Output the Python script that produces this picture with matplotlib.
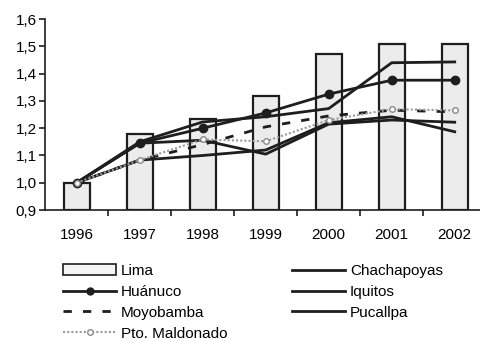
import numpy as np
import matplotlib.pyplot as plt
import matplotlib as mpl
from matplotlib.patches import Patch
from matplotlib.lines import Line2D

mpl.rcParams['font.family'] = ['Liberation Sans', 'DejaVu Sans']

years = ['1996', '1997', '1998', '1999', '2000', '2001', '2002']
lima = [1.00, 1.18, 1.233, 1.319, 1.471, 1.507, 1.51]
chachapoyas = [1.00, 1.15, 1.223, 1.242, 1.272, 1.44, 1.443]
huanuco = [1.00, 1.145, 1.20, 1.256, 1.325, 1.376, 1.376]
iquitos = [1.00, 1.145, 1.156, 1.105, 1.215, 1.23, 1.222]
moyobamba = [1.00, 1.083, 1.14, 1.205, 1.245, 1.266, 1.26]
pucallpa = [1.00, 1.083, 1.10, 1.12, 1.22, 1.242, 1.187]
maldonado = [1.00, 1.083, 1.159, 1.152, 1.23, 1.27, 1.265]

x = np.arange(len(years))
dark = '#1e1e1e'

fig = plt.figure(figsize=(4.8, 3.41), dpi=100)
ax = fig.add_axes([0.094, 0.384, 0.919, 0.56])

ax.bar(x, [v - 0.9 for v in lima], bottom=0.9, width=0.41, facecolor='#ececec',
       edgecolor=dark, linewidth=1.6, zorder=1)
ax.plot(x, chachapoyas, color=dark, lw=2, zorder=3)
ax.plot(x, huanuco, color=dark, lw=2, marker='o', markersize=6, zorder=3)
ax.plot(x, iquitos, color=dark, lw=2, zorder=3)
ax.plot(x, pucallpa, color=dark, lw=2, zorder=3)
ax.plot(x, moyobamba, color=dark, lw=2, linestyle=(0, (3, 4)), zorder=3)
ax.plot(x, maldonado, color='#9a9a9a', lw=1.5, linestyle=(0, (1, 1)), marker='o',
        markersize=4, markerfacecolor='white', markeredgecolor='#8a8a8a', zorder=4)

ax.set_xlim(-0.5, 6.5)
ax.set_ylim(0.9, 1.6)
ax.set_yticks(np.arange(0.9, 1.61, 0.1))
ax.set_yticklabels([f'{v:.1f}'.replace('.', ',') for v in np.arange(0.9, 1.61, 0.1)], fontsize=11)
ax.set_xticks(x)
ax.set_xticklabels(years, fontsize=11)
ax.set_xticks(x[:-1] + 0.5, minor=True)
ax.tick_params(axis='x', which='major', length=0, pad=13)
ax.tick_params(axis='x', which='minor', length=4, width=1.2, color=dark)
ax.tick_params(axis='y', length=4, width=1.2, color=dark, pad=2)
for s in ['top', 'right']:
    ax.spines[s].set_visible(False)
for s in ['left', 'bottom']:
    ax.spines[s].set_linewidth(1.2)
    ax.spines[s].set_color(dark)

h_left = [Patch(facecolor='#f4f4f4', edgecolor=dark, linewidth=1.2),
          Line2D([], [], color=dark, lw=2, marker='o', markersize=5),
          Line2D([], [], color=dark, lw=2, linestyle=(0, (3, 4))),
          Line2D([], [], color='#9a9a9a', lw=1.5, linestyle=(0, (1, 1)), marker='o',
                 markersize=4, markerfacecolor='white', markeredgecolor='#8a8a8a')]
l_left = ['Lima', 'Huánuco', 'Moyobamba', 'Pto. Maldonado']
h_right = [Line2D([], [], color=dark, lw=2) for _ in range(3)]
l_right = ['Chachapoyas', 'Iquitos', 'Pucallpa']

kw = dict(frameon=False, fontsize=11, handlelength=3.5, handletextpad=0.3,
          labelspacing=0.45, borderpad=0, borderaxespad=0, loc='upper left')
fig.legend(h_left, l_left, bbox_to_anchor=(63 / 480, 1 - 264 / 341), **kw)
fig.legend(h_right, l_right, bbox_to_anchor=(292 / 480, 1 - 264 / 341), **kw)

fig.savefig('out.png', dpi=100)
